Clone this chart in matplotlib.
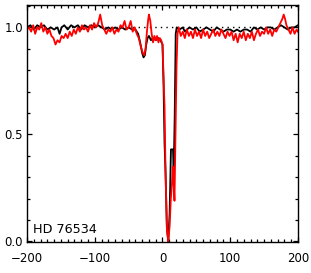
import numpy as np
import matplotlib
matplotlib.use('Agg')
import matplotlib.pyplot as plt
from matplotlib.ticker import MultipleLocator

# velocity (km/s) and normalised flux
red_v = [-200, -197, -194, -191, -188, -185, -182, -179, -176, -173, -170, -167,
         -164, -161, -158, -155, -152, -149, -146, -143, -140, -137, -134, -131,
         -128, -125, -122, -119, -116, -113, -110, -107, -104, -101, -98, -95,
         -92, -89, -86, -83, -80, -77, -74, -71, -68, -65, -62, -59, -56, -53,
         -50, -47, -44, -41, -38, -35, -32, -29, -27, -25, -23, -21, -20, -18,
         -16, -14, -12, -10, -8, -6, -4, -2, 0, 1.5, 3, 4.5, 6.5, 8.5, 10.5,
         12.3, 13.8, 15.3, 16.3, 17.7, 19.2, 20.7, 22.2, 24, 27, 30, 33, 36, 39,
         42, 45, 48, 51, 54, 57, 60, 63, 66, 69, 72, 75, 78, 81, 84, 87, 90, 93,
         96, 99, 102, 105, 108, 111, 114, 117, 120, 123, 126, 129, 132, 135, 138,
         141, 144, 147, 150, 153, 156, 159, 162, 165, 168, 171, 174, 177, 179,
         181, 183, 186, 189, 192, 195, 198, 200]
red_f = [0.99, 1.00, 0.98, 1.01, 0.97, 1.00, 0.99, 1.02, 0.98, 1.00, 0.97, 0.99,
         0.96, 0.95, 0.92, 0.94, 0.93, 0.96, 0.95, 0.97, 0.95, 0.98, 0.96, 0.99,
         0.97, 1.00, 0.98, 1.01, 0.99, 1.00, 0.98, 1.01, 0.99, 1.02, 1.00, 1.02,
         1.06, 1.01, 0.99, 0.97, 0.99, 0.98, 1.00, 0.97, 0.99, 0.98, 1.01, 1.00,
         1.03, 0.99, 1.00, 1.03, 0.98, 1.00, 0.97, 0.95, 0.91, 0.88, 0.87, 0.90,
         0.98, 1.04, 1.06, 1.03, 0.97, 0.93, 0.96, 0.94, 0.96, 0.93, 0.95, 0.94,
         0.92, 0.77, 0.63, 0.32, 0.06, 0.0, 0.07, 0.20, 0.26, 0.35, 0.29, 0.19,
         0.51, 0.82, 0.97, 1.00, 0.96, 0.98, 0.95, 0.99, 0.96, 0.98, 0.95, 0.99,
         0.96, 0.98, 0.95, 0.99, 0.96, 0.98, 0.95, 0.97, 0.99, 0.96, 0.98, 0.96,
         0.99, 0.97, 0.95, 0.98, 0.96, 0.98, 0.94, 0.97, 0.93, 0.97, 0.95, 0.98,
         0.94, 0.97, 0.95, 0.98, 0.94, 0.97, 0.99, 0.96, 0.98, 0.97, 1.00, 0.97,
         0.99, 0.96, 0.99, 0.98, 1.00, 1.02, 1.04, 1.06, 1.04, 1.01, 0.99, 0.97,
         1.00, 0.97, 0.99, 0.98]

black_v = [-200, -195, -190, -185, -180, -175, -170, -165, -160, -155, -152,
           -149, -145, -140, -135, -130, -125, -120, -115, -110, -105, -100,
           -95, -90, -85, -80, -75, -70, -65, -60, -55, -50, -45,
           -40, -36, -33, -30, -28, -26, -24, -22, -20, -17, -14, -10, -6, -3,
           0, 1.5, 3, 4.5, 6.5, 8.5, 10.5, 12.5, 15.5, 16.5, 18, 19.5, 21, 25,
           30, 33, 36, 40, 45, 50, 55, 60, 65, 70, 75, 80, 85, 90, 95, 100, 105,
           110, 115, 120, 125, 130, 135, 140, 145, 150, 155, 160, 165, 170, 175,
           180, 185, 190, 195, 200]
black_f = [1.00, 1.01, 0.99, 1.01, 1.00, 1.01, 0.99, 1.00, 0.99, 1.00, 0.97,
           1.00, 1.01, 0.99, 1.01, 1.00, 1.01, 0.99, 1.01, 1.00, 1.01, 1.00,
           1.01, 1.00, 0.99, 1.00, 0.99, 1.00, 0.99, 1.00, 0.99, 1.00, 0.99,
           0.99, 0.97, 0.93, 0.88, 0.86, 0.87, 0.92, 0.95, 0.96, 0.94,
           0.95, 0.94, 0.95, 0.94, 0.92, 0.74, 0.46, 0.32, 0.06, 0.0, 0.13,
           0.43, 0.43, 0.32, 0.58, 0.97, 1.00, 0.99, 1.00, 0.98, 0.99, 1.00,
           0.99, 1.00, 0.98, 0.99, 1.00, 0.99, 0.98, 1.00, 0.99, 0.98, 0.99,
           0.99, 0.98, 0.99, 0.98, 0.99, 0.99, 0.98, 1.00, 0.99, 1.00, 0.99,
           1.00, 1.00, 0.99, 1.00, 1.01, 1.00, 0.99, 1.00, 1.00, 1.01]

star = 'HD 76534'

fig = plt.figure(figsize=(3.11, 2.73), dpi=100)
ax = fig.add_axes([0.087, 0.114, 0.871, 0.868])

ax.axhline(1.0, color='black', ls=(0, (1, 3)), lw=1.0)
ax.plot(black_v, black_f, color='black', lw=1.3)
ax.plot(red_v, red_f, color='red', lw=1.3)

ax.set_xlim(-200, 200)
ax.set_ylim(-0.002, 1.105)
ax.xaxis.set_major_locator(MultipleLocator(100))
ax.xaxis.set_minor_locator(MultipleLocator(10))
ax.yaxis.set_major_locator(MultipleLocator(0.5))
ax.yaxis.set_minor_locator(MultipleLocator(0.1))
ax.yaxis.set_major_formatter(matplotlib.ticker.FormatStrFormatter('%.1f'))
ax.tick_params(which='both', direction='in', top=True, right=True,
               labelsize=8.5, width=0.9)
ax.tick_params(which='major', length=3.5, pad=3)
ax.tick_params(axis='x', which='major', pad=7)
ax.tick_params(which='minor', length=2)
for s in ax.spines.values():
    s.set_linewidth(1.0)

ax.text(0.022, 0.025, star, transform=ax.transAxes, fontsize=9.2,
        ha='left', va='bottom')

fig.savefig('out.png', dpi=100)
